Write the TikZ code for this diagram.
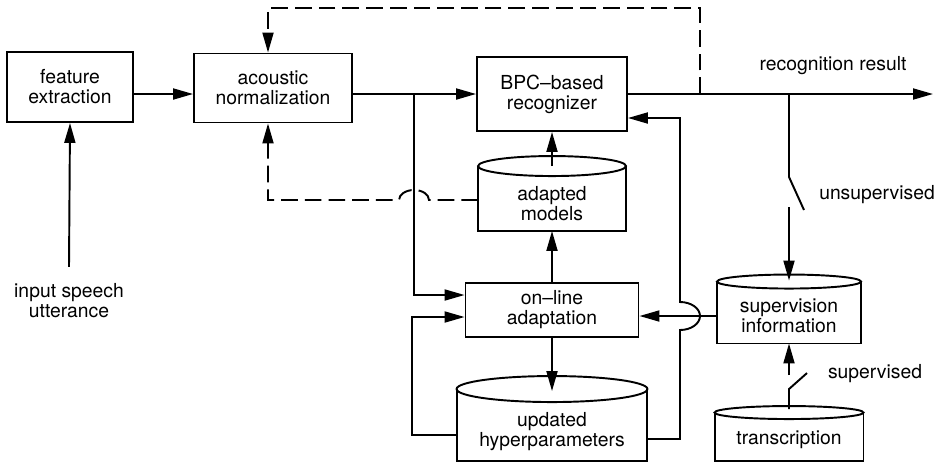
\documentclass[tikz,border=0pt]{standalone}
\usepackage{fontspec}
\setmainfont{TeX Gyre Heros}
\usepackage{tikz}
\usetikzlibrary{positioning, arrows.meta, calc}

% database drawing: flat bottom, ellipse on top
\newcommand{\dbshape}[2]{%
  \draw ($(#1.north west)+(0,#2)$) -- (#1.south west) -- (#1.south east) -- ($(#1.north east)+(0,#2)$);
  \draw let \p1=($(#1.east)-(#1.west)$) in ($(#1.north)+(0,#2)$) ellipse [x radius=0.5*\x1, y radius=#2];
}

\begin{document}
\begin{tikzpicture}[
    x=0.02cm, y=-0.02cm,
    line width=1.1pt,
    font=\fontsize{11}{11.4}\selectfont,
    box/.style={rectangle, draw, align=center},
    db/.style={rectangle, inner sep=0pt, align=center},
    note/.style={align=center},
    arrow/.style={-{Triangle[length=4mm, width=2.2mm]}},
    dasharrow/.style={arrow, dash pattern=on 9.5pt off 4pt}
]
\useasboundingbox (0,0) rectangle (939,464);

% Front end
\node[box, minimum width=2.52cm, minimum height=1.4cm] (feat) at (70,87) {feature\\extraction};
\node[box, minimum width=3.16cm, minimum height=1.38cm] (acou) at (273,88) {acoustic\\normalization};
\node[note] (inp) at (69,301) {input speech\\utterance};

% Recognition and adaptation
\node[box, minimum width=3.0cm, minimum height=1.48cm] (bpc) at (552,94) {BPC--based\\recognizer};
\node[db, minimum width=2.92cm, minimum height=1.06cm] (adapt) at (552,203.5) {adapted\\models};
\node[box, minimum width=3.46cm, minimum height=1.08cm] (online) at (552,310) {on--line\\adaptation};
\node[db, minimum width=3.78cm, minimum height=1.14cm] (hyper) at (552,431.5) {updated\\hyperparameters};
\dbshape{adapt}{0.2cm}
\dbshape{hyper}{0.26cm}

% Supervision
\node[db, minimum width=2.84cm, minimum height=1.06cm] (sup) at (789,316) {supervision\\information};
\node[db, minimum width=2.94cm, minimum height=0.8cm] (trans) at (789,440) {transcription};
\dbshape{sup}{0.14cm}
\dbshape{trans}{0.13cm}

% Labels
\node[note] (res) at (833,66) {recognition result};
\node[note] (unsup) at (877,195) {unsupervised};
\node[note] (superv) at (875,374) {supervised};

% Helper points
\coordinate (mainy) at (0,94);
\coordinate (topy) at (0,8);
\coordinate (br) at (414,94);
\coordinate (fb) at (700,94);
\coordinate (outend) at (933,94);
\coordinate (hop1) at (414,200);
\coordinate (hop2) at (680,316);
\coordinate (sw1) at (789,94);
\coordinate (sw1b) at (789,207);
\coordinate (sw2b) at (789,375);

% Arrows
\draw[arrow] ([yshift=0.2cm]inp.north) -- (feat.south);
\draw[arrow] (feat.east |- mainy) -- (acou.west |- mainy);
\draw[arrow] (acou.east |- mainy) -- (bpc.west);
\draw[arrow] (br) |- ([yshift=0.3cm]online.west);
\draw[arrow] (bpc.east) -- (outend);
\draw[arrow] ([yshift=0.2cm]adapt.north) -- (bpc.south);
\draw[arrow] (online.north) -- (adapt.south);
\draw[arrow] (online.south) -- ([yshift=0.22cm]hyper.north);
\draw[arrow] ([yshift=-0.07cm]hyper.west) -| ([xshift=-1.05cm,yshift=-0.14cm]online.west) -- ([yshift=-0.14cm]online.west);
\draw[arrow] ([yshift=-0.15cm]hyper.east) -| ([yshift=-0.28cm]hop2)
    arc[start angle=-90, end angle=90, x radius=0.4cm, y radius=0.28cm] |- ([yshift=-0.48cm]bpc.east);
\draw[arrow] (sup.west) -- (sup.west -| online.east);

% Feedback (dashed)
\draw[dasharrow] (fb) -- (fb |- topy) -| ([xshift=-0.1cm]acou.north);
\draw[dasharrow] ([yshift=0.07cm]adapt.west) -- ([xshift=0.3cm]hop1)
    arc[start angle=0, end angle=180, x radius=0.3cm, y radius=0.2cm] -| ([xshift=-0.1cm]acou.south);

% Switches
\draw (sw1) -- ++(0,83) -- ++(15,33);
\draw[arrow] (sw1b) -- ([yshift=0.16cm]sup.north);
\draw ([yshift=0.2cm]trans.north) -- ++(0,-20) -- ++(18,-16);
\draw[arrow] (sw2b) -- (sup.south);

\end{tikzpicture}
\end{document}
